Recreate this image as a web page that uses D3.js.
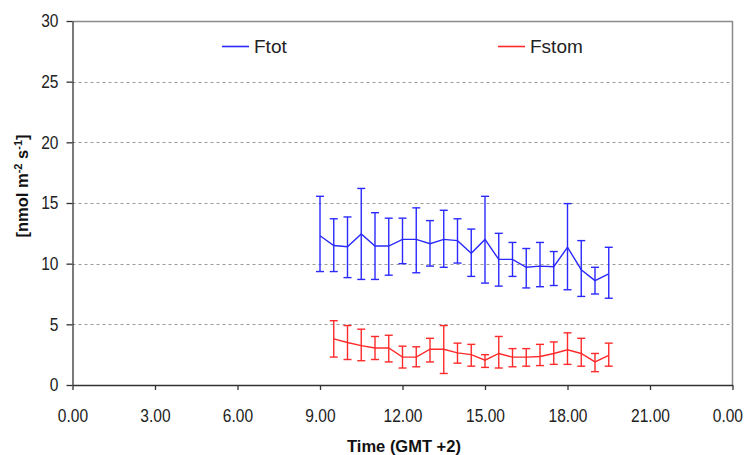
<!DOCTYPE html>
<html>
<head>
<meta charset="utf-8">
<script src="https://cdn.jsdelivr.net/npm/d3@7"></script>
<style>
  html, body { margin: 0; padding: 0; background: #fff; }
  svg { display: block; }
  .tick text { font-family: "Liberation Sans", Arial, sans-serif; font-size: 18.5px; fill: #222; }
</style>
</head>
<body>
<svg id="chart" width="748" height="455"></svg>
<script>
// ---- data ----
const totHours = [9.0, 9.5, 10.0, 10.5, 11.0, 11.5, 12.0, 12.5, 13.0, 13.5, 14.0, 14.5, 15.0, 15.5, 16.0, 16.5, 17.0, 17.5, 18.0, 18.5, 19.0, 19.5];
const totMean  = [12.3, 11.5, 11.4, 12.45, 11.45, 11.45, 12.0, 12.0, 11.65, 12.0, 11.9, 10.85, 12.0, 10.35, 10.35, 9.7, 9.8, 9.75, 11.35, 9.5, 8.6, 9.15];
const totHigh  = [15.55, 13.7, 13.85, 16.2, 14.2, 13.75, 13.75, 14.6, 13.55, 14.4, 13.7, 12.85, 15.55, 12.5, 11.75, 11.25, 11.75, 11.0, 14.95, 11.9, 9.7, 11.35];
const totLow   = [9.35, 9.35, 8.85, 8.7, 8.7, 9.05, 10.0, 9.25, 9.8, 9.7, 10.05, 8.95, 8.4, 8.15, 8.95, 8.0, 8.1, 8.2, 7.85, 7.3, 7.5, 7.15];

const stomHours = [9.5, 10.0, 10.5, 11.0, 11.5, 12.0, 12.5, 13.0, 13.5, 14.0, 14.5, 15.0, 15.5, 16.0, 16.5, 17.0, 17.5, 18.0, 18.5, 19.0, 19.5];
const stomMean  = [3.8, 3.5, 3.25, 3.05, 3.05, 2.3, 2.3, 2.95, 2.95, 2.65, 2.5, 2.05, 2.6, 2.3, 2.3, 2.35, 2.6, 2.9, 2.6, 1.9, 2.45];
const stomHigh  = [5.3, 4.9, 4.6, 4.0, 4.1, 3.2, 3.15, 3.85, 4.9, 3.45, 3.35, 2.5, 4.0, 3.0, 3.0, 3.35, 3.55, 4.3, 3.85, 2.6, 3.45];
const stomLow   = [2.3, 2.1, 2.0, 2.1, 1.9, 1.4, 1.5, 1.9, 0.95, 1.8, 1.55, 1.45, 1.4, 1.5, 1.55, 1.6, 1.7, 1.7, 1.55, 1.1, 1.55];

const xTicks = [0, 3, 6, 9, 12, 15, 18, 21, 24];
const xTickLabels = ["0.00", "3.00", "6.00", "9.00", "12.00", "15.00", "18.00", "21.00", "0.00"];
const yTicks = [0, 5, 10, 15, 20, 25, 30];
const seriesNames = ["Ftot", "Fstom"];
const seriesColors = ["#2a2aff", "#ff2a2a"];

// ---- layout ----
const svg = d3.select("#chart");
const plotLeft = 72.5, plotRight = 732.5, plotTop = 21, plotBottom = 385;
const x = d3.scaleLinear().domain([0, 24]).range([plotLeft, plotRight]);
const y = d3.scaleLinear().domain([0, 30]).range([plotBottom, plotTop]);

// gridlines
svg.append("g").selectAll("line").data(yTicks.filter(v => v > 0 && v < 30)).join("line")
  .attr("x1", plotLeft).attr("x2", plotRight)
  .attr("y1", d => Math.round(y(d)) + 0.5).attr("y2", d => Math.round(y(d)) + 0.5)
  .attr("stroke", "#9a9a9a").attr("stroke-width", 1).attr("stroke-dasharray", "3,3");

// top and right frame
svg.append("line").attr("x1", plotLeft).attr("x2", plotRight).attr("y1", plotTop + 0.5).attr("y2", plotTop + 0.5)
  .attr("stroke", "#8a8a8a").attr("stroke-width", 1.5);
svg.append("line").attr("x1", plotRight).attr("x2", plotRight).attr("y1", plotTop).attr("y2", plotBottom)
  .attr("stroke", "#8a8a8a").attr("stroke-width", 1.5);

// axes
const xAxis = d3.axisBottom(x).tickValues(xTicks).tickSize(5).tickSizeOuter(0)
  .tickFormat((d, i) => xTickLabels[i]);
const gx = svg.append("g").attr("transform", `translate(0,${plotBottom})`).call(xAxis);
gx.selectAll("text").attr("dy", null).attr("y", 37);
const yAxis = d3.axisLeft(y).tickValues(yTicks).tickSize(6).tickSizeOuter(0).tickFormat(d3.format("d"));
const gy = svg.append("g").attr("transform", `translate(${plotLeft},0)`).call(yAxis);
gy.selectAll("text").attr("x", -14);
svg.selectAll(".domain, .tick line").attr("stroke", "#333").attr("stroke-width", 1.3);
// condensed look of the tick labels
svg.selectAll(".tick text").each(function () {
  const w = this.getComputedTextLength();
  d3.select(this).attr("textLength", w * 0.84).attr("lengthAdjust", "spacingAndGlyphs");
});
// keep the last x label inside the picture
gx.selectAll(".tick text").filter((d, i) => i === xTicks.length - 1)
  .attr("text-anchor", "end").attr("x", 10);

// series
function drawSeries(hours, mean, high, low, color) {
  const g = svg.append("g");
  const pts = hours.map((h, i) => ({ h, m: mean[i], hi: high[i], lo: low[i] }));
  const cap = 4;
  g.selectAll("line.v").data(pts).join("line").attr("class", "v")
    .attr("x1", d => x(d.h)).attr("x2", d => x(d.h))
    .attr("y1", d => y(d.hi)).attr("y2", d => y(d.lo))
    .attr("stroke", color).attr("stroke-width", 1.4);
  g.selectAll("line.t").data(pts).join("line").attr("class", "t")
    .attr("x1", d => x(d.h) - cap).attr("x2", d => x(d.h) + cap)
    .attr("y1", d => y(d.hi)).attr("y2", d => y(d.hi))
    .attr("stroke", color).attr("stroke-width", 1.4);
  g.selectAll("line.b").data(pts).join("line").attr("class", "b")
    .attr("x1", d => x(d.h) - cap).attr("x2", d => x(d.h) + cap)
    .attr("y1", d => y(d.lo)).attr("y2", d => y(d.lo))
    .attr("stroke", color).attr("stroke-width", 1.4);
  g.append("path").datum(pts)
    .attr("d", d3.line().x(d => x(d.h)).y(d => y(d.m)))
    .attr("fill", "none").attr("stroke", color).attr("stroke-width", 1.4);
}
drawSeries(totHours, totMean, totHigh, totLow, seriesColors[0]);
drawSeries(stomHours, stomMean, stomHigh, stomLow, seriesColors[1]);

// legend
const legendX = [222, 498];
seriesNames.forEach((name, i) => {
  svg.append("line").attr("x1", legendX[i]).attr("x2", legendX[i] + 27)
    .attr("y1", 46.5).attr("y2", 46.5).attr("stroke", seriesColors[i]).attr("stroke-width", 1.6);
  svg.append("text").attr("x", legendX[i] + 32).attr("y", 53)
    .attr("font-family", "Liberation Sans, Arial, sans-serif").attr("font-size", 19)
    .attr("fill", "#222").text(name);
});

// axis titles
svg.append("text").attr("x", 404).attr("y", 452).attr("text-anchor", "middle")
  .attr("font-family", "Liberation Sans, Arial, sans-serif").attr("font-size", 16.5)
  .attr("font-weight", "bold").attr("fill", "#111").text("Time (GMT +2)");

const yt = svg.append("text").attr("transform", "translate(28,186) rotate(-90)")
  .attr("text-anchor", "middle")
  .attr("font-family", "Liberation Sans, Arial, sans-serif").attr("font-size", 16.5)
  .attr("font-weight", "bold").attr("fill", "#111");
yt.append("tspan").text("[nmol m");
yt.append("tspan").attr("dy", -6).attr("font-size", 11).text("-2");
yt.append("tspan").attr("dy", 6).text(" s");
yt.append("tspan").attr("dy", -6).attr("font-size", 11).text("-1");
yt.append("tspan").attr("dy", 6).text("]");
</script>
</body>
</html>
